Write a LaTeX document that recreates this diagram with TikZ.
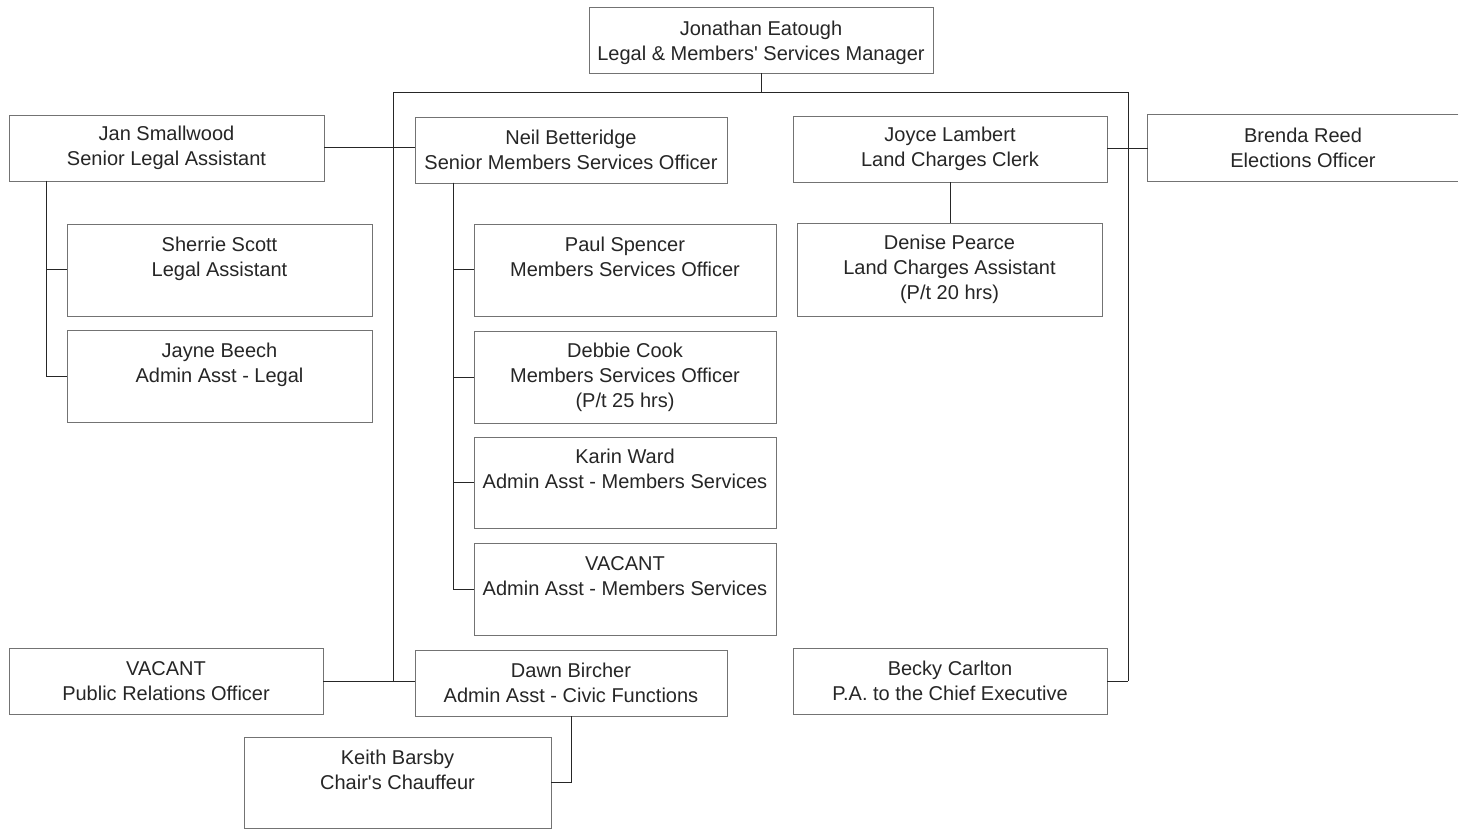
\documentclass[tikz,border=0pt]{standalone}
\usepackage{fontspec}
\setmainfont{Liberation Sans}[Ligatures=TeXOff]
% empty third row that keeps the text at the top of a tall box
\newcommand{\spare}{\\[-6pt]\strut}
\begin{document}
\begin{tikzpicture}[x={(1pt,0)}, y={(0,-1pt)},
  post/.style={draw=black!55, line width=0.8pt, align=center, inner sep=0pt,
    text=black!85, font=\fontsize{20}{25}\selectfont},
  openpost/.style={post, draw=none},
  link/.style={draw=black!85, line width=1pt}]
  % canvas
  \fill[white] (0,0) rectangle (1465,829);
  \useasboundingbox (0,0) rectangle (1465,829);

  % manager
  \node[post, minimum width=344pt, minimum height=66pt] (jon) at (761,40)
    {\rule{0pt}{21pt}Jonathan Eatough\\Legal \& Members' Services Manager};

  % first row
  \node[post, minimum width=315pt, minimum height=66pt] (jan) at (166.5,148)
    {Jan Smallwood\\Senior Legal Assistant};
  \node[post, minimum width=312pt, minimum height=66pt] (neil) at (571,150)
    {Neil Betteridge\\Senior Members Services Officer};
  \node[post, minimum width=314pt, minimum height=66pt] (joyce) at (950,149)
    {Joyce Lambert\\Land Charges Clerk};
  \node[openpost, minimum width=310pt, minimum height=66pt] (brenda) at (1303,148)
    {Brenda Reed\\Elections Officer};
  \draw[draw=black!55, line width=0.8pt] (brenda.north east) -- (brenda.north west)
    -- (brenda.south west) -- (brenda.south east);

  % legal team
  \node[post, minimum width=305pt, minimum height=92pt] (sherrie) at (219.5,270)
    {Sherrie Scott\\Legal Assistant\spare};
  \node[post, minimum width=305pt, minimum height=92pt] (jayne) at (219.5,376)
    {Jayne Beech\\Admin Asst - Legal\spare};

  % members services team
  \node[post, minimum width=302pt, minimum height=92pt] (paul) at (625,270)
    {Paul Spencer\\Members Services Officer\spare};
  \node[post, minimum width=302pt, minimum height=92pt] (debbie) at (625,377)
    {Debbie Cook\\Members Services Officer\\(P/t 25 hrs)};
  \node[post, minimum width=302pt, minimum height=91pt] (karin) at (625,482.5)
    {Karin Ward\\Admin Asst - Members Services\spare};
  \node[post, minimum width=302pt, minimum height=92pt] (vacantms) at (625,589)
    {VACANT\\Admin Asst - Members Services\spare};

  % land charges
  \node[post, minimum width=305pt, minimum height=93pt] (denise) at (949.5,269.5)
    {Denise Pearce\\Land Charges Assistant\\(P/t 20 hrs)};

  % bottom row
  \node[post, minimum width=314pt, minimum height=66pt] (pro) at (166,681)
    {VACANT\\Public Relations Officer};
  \node[post, minimum width=312pt, minimum height=66pt] (dawn) at (571,683)
    {Dawn Bircher\\Admin Asst - Civic Functions};
  \node[post, minimum width=314pt, minimum height=66pt] (becky) at (950,681)
    {Becky Carlton\\P.A. to the Chief Executive};
  \node[post, minimum width=307pt, minimum height=91pt] (keith) at (397.5,782.5)
    {Keith Barsby\\Chair's Chauffeur\spare};

  % bus coordinates
  \coordinate (busL) at (393,93);
  \coordinate (busR) at (1128,93);
  \coordinate (busLend) at (393,681);
  \coordinate (busRend) at (1128,681);
  \coordinate (jantap) at (46,181);
  \coordinate (neiltap) at (453,183);

  % main bus
  \draw[link] (jon.south) -- (jon.south |- busL);
  \draw[link] (busLend) -- (busL) -- (busR) -- (busRend);

  % side links
  \draw[link] (jan.east) -- (neil.west |- jan.east);
  \draw[link] (joyce.east) -- (brenda.west |- joyce.east);
  \draw[link] (pro.east) -- (dawn.west |- pro.east);
  \draw[link] (becky.east) -- (busRend);

  % legal team links
  \draw[link] (jantap) |- (sherrie.west);
  \draw[link] (jantap) |- (jayne.west);

  % members services links
  \draw[link] (neiltap) |- (paul.west);
  \draw[link] (neiltap) |- (debbie.west);
  \draw[link] (neiltap) |- (karin.west);
  \draw[link] (neiltap) |- (vacantms.west);

  % land charges link
  \draw[link] (joyce.south) -- (joyce.south |- denise.north);

  % chauffeur link
  \draw[link] (dawn.south) |- (keith.east);
\end{tikzpicture}
\end{document}
